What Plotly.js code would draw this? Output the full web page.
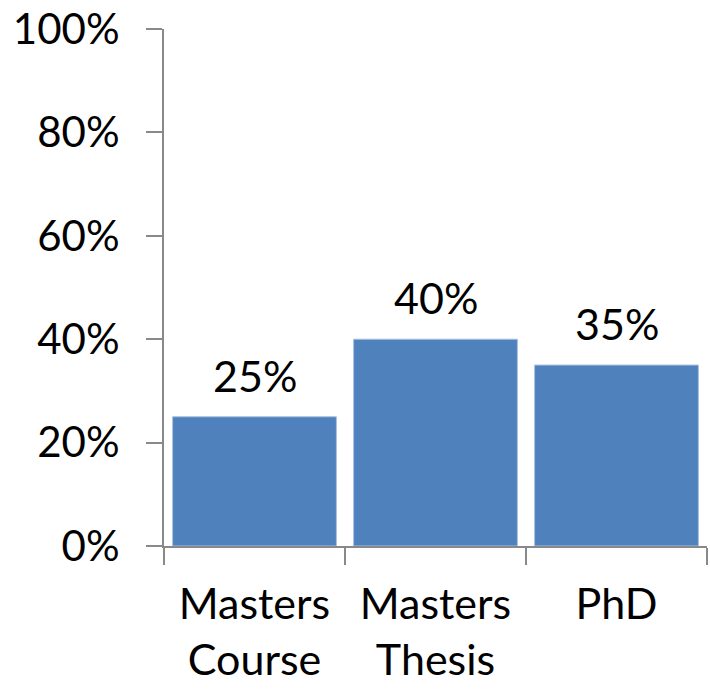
<!DOCTYPE html>
<html>
<head>
<meta charset="utf-8">
<script src="https://cdn.plot.ly/plotly-3.0.1.min.js"></script>
<style>html,body{margin:0;padding:0;background:#fff;}#chart{width:710px;height:689px;}</style>
</head>
<body>
<div id="chart"></div>
<script>
var categories = ["Masters<br>Course", "Masters<br>Thesis", "PhD"];
var values = [0.25, 0.40, 0.35];
var yTickVals = [0, 0.2, 0.4, 0.6, 0.8, 1.0];
var yTickText = ["0%", "20%", "40%", "60%", "80%", "100%"];

var FONT = "Lato, 'Open Sans', sans-serif";
var AXIS = "#898989";

var trace = {
  type: "bar",
  x: categories,
  y: values,
  marker: {color: "#4F81BD", line: {color: "#a9c0e0", width: 1}},
  hoverinfo: "skip"
};

var annotations = values.map(function (v, i) {
  return {
    x: categories[i], y: v, xref: "x", yref: "y",
    text: Math.round(v * 100) + "%",
    showarrow: false, yanchor: "bottom", yshift: 14,
    font: {family: FONT, size: 43, color: "#000"}
  };
});

var layout = {
  width: 710, height: 689,
  margin: {l: 164, r: 3, t: 29, b: 143, pad: 0},
  paper_bgcolor: "#fff", plot_bgcolor: "#fff",
  showlegend: false,
  bargap: 0.095,
  font: {family: FONT, size: 42, color: "#000"},
  xaxis: {
    type: "category",
    showline: true, linecolor: AXIS, linewidth: 2,
    ticks: "outside", tickson: "boundaries", ticklen: 17, tickwidth: 2, tickcolor: AXIS,
    showgrid: false, zeroline: false,
    ticklabelstandoff: 19,
    tickfont: {family: FONT, size: 43, color: "#000"},
    fixedrange: true
  },
  yaxis: {
    range: [0, 1],
    tickvals: yTickVals, ticktext: yTickText,
    showline: true, linecolor: AXIS, linewidth: 2,
    ticks: "outside", ticklen: 16, tickwidth: 2, tickcolor: AXIS,
    showgrid: false, zeroline: false,
    ticklabelstandoff: 18,
    tickfont: {family: FONT, size: 42, color: "#000"},
    fixedrange: true
  },
  annotations: annotations
};

Plotly.newPlot("chart", [trace], layout, {displayModeBar: false, staticPlot: true});
</script>
</body>
</html>
